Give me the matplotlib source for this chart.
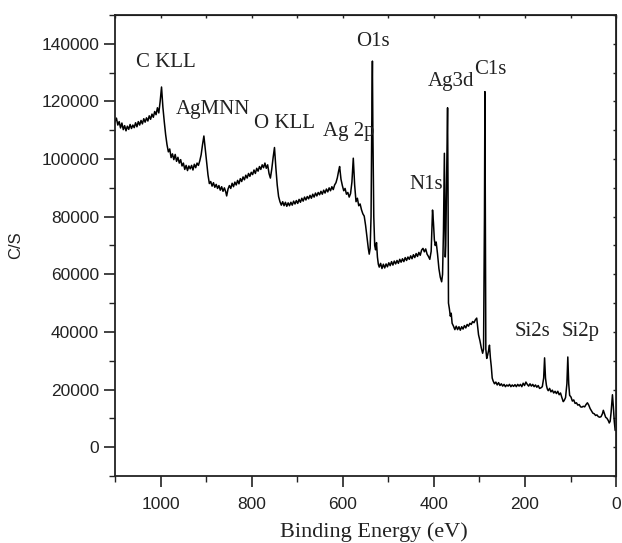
import numpy as np
import matplotlib.pyplot as plt
from matplotlib.ticker import MultipleLocator

# survey spectrum (binding energy in eV, counts/s)
binding_energy = [
    1100, 1097, 1094, 1091, 1088, 1085, 1082, 1079, 1076, 1073, 1070, 1067, 1064, 1061, 1058,
    1055, 1052, 1049, 1046, 1043, 1040, 1037, 1034, 1031, 1028, 1025, 1022, 1019, 1016, 1013,
    1010, 1007, 1004, 1001, 998, 995, 992, 989, 986, 983, 980, 977, 974, 971, 968, 965, 962,
    959, 956, 953, 950, 947, 944, 941, 938, 935, 932, 929, 926, 923, 920, 917, 914, 911, 908,
    905, 902, 899, 896, 893, 890, 887, 884, 881, 878, 875, 872, 869, 866, 863, 860, 857, 855,
    852, 849, 846, 843, 840, 837, 834, 831, 828, 825, 822, 819, 816, 813, 810, 807, 804, 801,
    798, 795, 792, 789, 786, 783, 780, 777, 774, 771, 768, 765, 762, 759, 756, 753, 750, 747,
    744, 741, 738, 735, 732, 729, 726, 723, 720, 717, 714, 711, 708, 705, 702, 699, 696, 693,
    690, 687, 684, 681, 678, 675, 672, 669, 666, 663, 660, 657, 654, 651, 648, 645, 642, 639,
    636, 633, 630, 627, 624, 621, 618, 615, 612, 609, 607, 604, 601, 598, 595, 592, 589, 586,
    583, 580, 577, 574, 571, 568, 565, 562, 559, 556, 553, 550, 547, 544, 542, 540, 538, 536,
    535, 534, 532, 530, 528, 526, 524, 522, 520, 517, 514, 511, 508, 505, 502, 499, 496, 493,
    490, 487, 484, 481, 478, 475, 472, 469, 466, 463, 460, 457, 454, 451, 448, 445, 442, 439,
    436, 433, 430, 427, 424, 421, 418, 415, 412, 409, 406, 403, 401, 399, 397, 395, 392, 389,
    386, 383, 381, 379, 377, 376, 375, 374, 372, 370, 369, 368, 366, 364, 362, 360, 357, 354,
    351, 348, 345, 342, 339, 336, 333, 330, 327, 324, 321, 318, 315, 312, 309, 306, 304, 302,
    299, 296, 293, 291, 289, 288, 287, 286, 284, 282, 280, 278, 276, 274, 272, 270, 267, 264,
    261, 258, 255, 252, 249, 246, 243, 240, 237, 234, 231, 228, 225, 222, 219, 216, 213, 210,
    207, 204, 201, 198, 195, 192, 189, 186, 183, 180, 177, 174, 171, 168, 165, 162, 159, 157,
    155, 153, 151, 149, 146, 143, 140, 137, 134, 131, 128, 125, 122, 119, 116, 114, 111, 108,
    106, 104, 102, 99, 96, 93, 90, 87, 84, 81, 78, 75, 72, 69, 66, 63, 60, 57, 54, 51, 48, 45,
    42, 39, 36, 33, 30, 28, 26, 23, 20, 17, 15, 13, 11, 9, 8, 6, 4, 2, 0,
]
counts = [
    113000, 114200, 111800, 113000, 110800, 112500, 110200, 111600, 109800, 111400, 110300,
    112000, 110600, 111800, 110900, 112600, 111200, 113000, 111800, 113400, 112200, 114000,
    112800, 114300, 113200, 115000, 113800, 115600, 114500, 116500, 115400, 117800, 116000,
    120000, 125000, 118000, 113000, 108500, 105000, 102500, 103500, 100500, 101800, 99800,
    101600, 99200, 100600, 98600, 99800, 97600, 98600, 96400, 97800, 96000, 97600, 96600,
    97800, 96200, 98200, 97000, 98600, 97800, 99400, 101500, 105000, 108000, 103500, 99000,
    94500, 91500, 92200, 90600, 91800, 90200, 91200, 89800, 90800, 89200, 90400, 88800,
    90000, 88600, 87200, 89600, 90800, 89800, 91600, 90400, 92000, 91000, 92600, 91400,
    93200, 92200, 93800, 92800, 94400, 93400, 95000, 94000, 95400, 94600, 96200, 95000,
    96800, 95800, 97400, 96400, 98000, 97000, 98600, 96800, 98000, 95000, 93400, 96500,
    100500, 104000, 97000, 91000, 87000, 85200, 84000, 85200, 83800, 85000, 83600, 84800,
    83800, 85000, 84000, 85400, 84400, 85600, 84600, 86000, 85000, 86400, 85400, 86800,
    85800, 87000, 86200, 87400, 86400, 87800, 86800, 88200, 87200, 88400, 87600, 88800,
    87800, 89200, 88200, 89600, 88600, 90000, 89000, 90400, 89400, 91000, 91800, 93500,
    96000, 97400, 93000, 90800, 89000, 89800, 87800, 88400, 86800, 88000, 92000, 100300,
    91000, 85200, 86400, 83800, 84400, 82400, 81000, 80200, 77000, 73000, 69000, 67000,
    69000, 80000, 120000, 134000, 110000, 80000, 70000, 68500, 71000, 66000, 63500, 62500,
    63800, 62000, 63500, 62200, 63600, 62600, 64000, 63000, 64400, 63200, 64600, 63600,
    64800, 63800, 65200, 64200, 65400, 64400, 65800, 64800, 66000, 65200, 66400, 65400,
    66800, 65800, 67200, 66200, 67600, 66600, 68400, 69000, 67800, 68800, 67000, 66200,
    65200, 68000, 82300, 78000, 72000, 70000, 71200, 67000, 62000, 59000, 57400, 60000,
    75000, 102000, 85000, 66000, 70000, 95000, 117800, 90000, 50000, 48000, 45500, 46500,
    43000, 42000, 40800, 42000, 40800, 41800, 40600, 41800, 41000, 42200, 41400, 42600,
    42000, 43000, 42600, 43600, 43200, 44200, 44800, 42000, 39000, 37000, 34500, 32600,
    34000, 80000, 123400, 80000, 34000, 30800, 32000, 33500, 35400, 31000, 28000, 24000,
    23000, 22000, 22600, 21600, 22400, 21400, 22000, 21200, 21800, 21000, 21600, 21200,
    21800, 21000, 21600, 21100, 21700, 21000, 21800, 21200, 21800, 21000, 22200, 21400,
    22600, 21800, 21200, 22000, 21200, 21800, 21000, 21600, 20800, 21400, 20400, 20600,
    21000, 24000, 31000, 24000, 21500, 20200, 19600, 20400, 19200, 19800, 18800, 19400,
    18600, 19400, 18200, 18800, 17200, 15800, 16200, 17200, 22000, 31300, 22000, 18000,
    17400, 16000, 16400, 15200, 15400, 14600, 14800, 14000, 13900, 14200, 14000, 14800,
    15400, 14600, 13400, 12600, 11800, 11600, 11000, 11200, 10600, 10400, 10600, 11600,
    12800, 11800, 10400, 10000, 9200, 8400, 9000, 12000, 16500, 18200, 14000, 9000, 5800,
    6000,
]

# peak labels and where they sit (eV, C/S)
peak_labels = ["C KLL", "AgMNN", "O KLL", "Ag 2p", "O1s", "Ag3d", "C1s", "N1s", "Si2s", "Si2p"]
label_x = [989, 884, 727, 588, 533, 363, 277, 418, 183, 77]
label_y = [133400, 117100, 112400, 109500, 140800, 126900, 131200, 91000, 40000, 40000]

fig = plt.figure(figsize=(6.22, 5.43), dpi=100)
ax = fig.add_axes([0.185, 0.1234, 0.8055, 0.849])

ax.plot(binding_energy, counts, color="black", lw=1.1)

for txt, x, y in zip(peak_labels, label_x, label_y):
    ax.text(x, y, txt, ha="center", va="center", fontsize=15,
            family="Liberation Serif", color="#222222")

ax.set_xlim(1100, 0)
ax.set_ylim(-10000, 150000)
ax.set_xticks([1000, 800, 600, 400, 200, 0])
ax.set_yticks(np.arange(0, 140001, 20000))
ax.xaxis.set_minor_locator(MultipleLocator(100))
ax.yaxis.set_minor_locator(MultipleLocator(10000))

for s in ax.spines.values():
    s.set_linewidth(1.3)
    s.set_color("#222222")

ax.tick_params(which="major", direction="out", length=8, width=1.2, color="#222222",
               labelsize=12.5, labelcolor="#222222", top=False, right=False)
ax.tick_params(which="minor", direction="out", length=4, width=1.0, color="#222222",
               top=False, right=False)
ax.tick_params(axis="x", pad=7)
for lab in ax.get_xticklabels() + ax.get_yticklabels():
    lab.set_family("Liberation Sans")

# small inward ticks on the top and right spines
top = ax.secondary_xaxis("top")
top.set_xticks(np.arange(0, 1101, 100))
top.tick_params(direction="in", length=2, width=1.0, labeltop=False, color="#222222")
right = ax.secondary_yaxis("right")
right.set_yticks(np.arange(-10000, 150001, 10000))
right.tick_params(direction="in", length=2, width=1.0, labelright=False, color="#222222")

ax.set_xlabel("Binding Energy (eV)", fontsize=16, family="Liberation Serif", color="#222222")
ax.xaxis.set_label_coords(0.517, -0.1)
ax.set_ylabel("C/S", fontsize=12, family="Liberation Sans", color="#222222")
ax.yaxis.set_label_coords(-0.183, 0.5)

fig.savefig("out.png", dpi=100)
